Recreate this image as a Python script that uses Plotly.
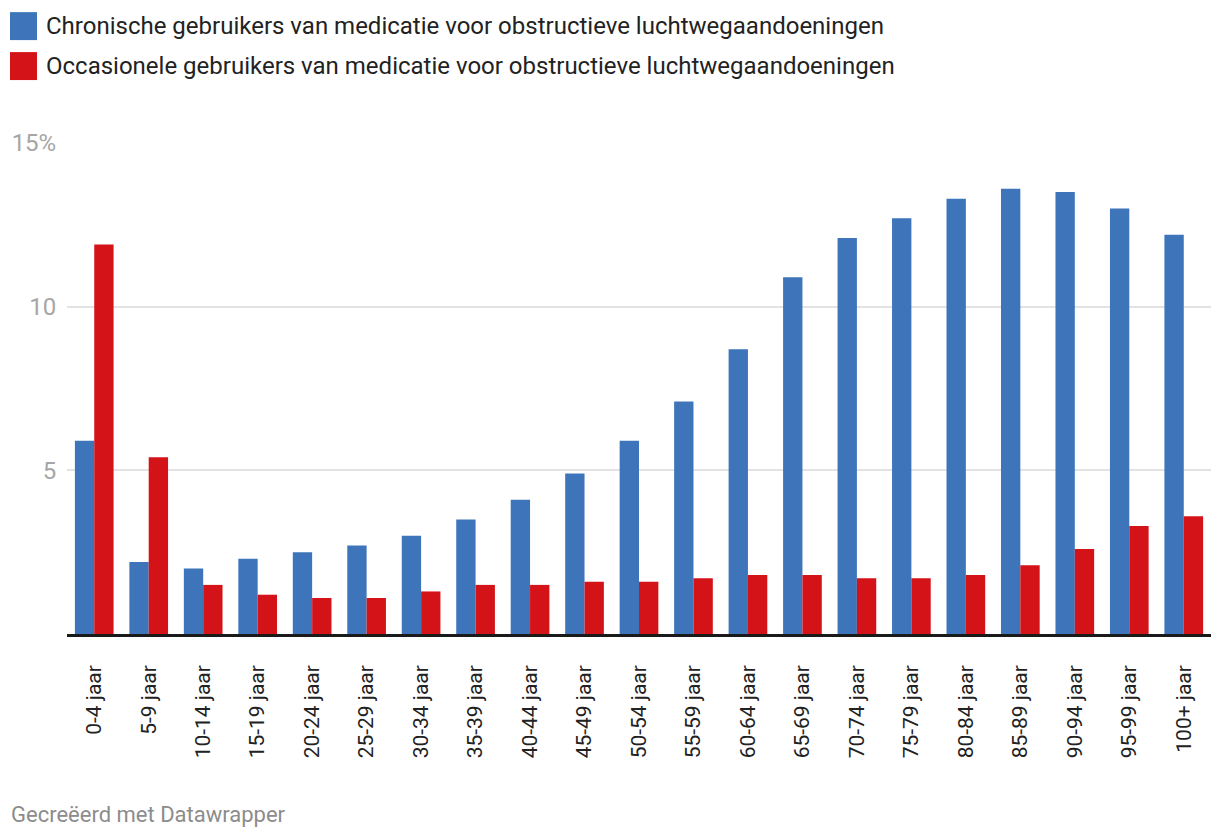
import plotly.graph_objects as go

categories = ["0-4 jaar", "5-9 jaar", "10-14 jaar", "15-19 jaar", "20-24 jaar", "25-29 jaar",
              "30-34 jaar", "35-39 jaar", "40-44 jaar", "45-49 jaar", "50-54 jaar", "55-59 jaar",
              "60-64 jaar", "65-69 jaar", "70-74 jaar", "75-79 jaar", "80-84 jaar", "85-89 jaar",
              "90-94 jaar", "95-99 jaar", "100+ jaar"]
chronisch = [5.9, 2.2, 2.0, 2.3, 2.5, 2.7, 3.0, 3.5, 4.1, 4.9, 5.9, 7.1, 8.7, 10.9, 12.1,
             12.7, 13.3, 13.6, 13.5, 13.0, 12.2]
occasioneel = [11.9, 5.4, 1.5, 1.2, 1.1, 1.1, 1.3, 1.5, 1.5, 1.6, 1.6, 1.7, 1.8, 1.8, 1.7,
               1.7, 1.8, 2.1, 2.6, 3.3, 3.6]
series_names = ["Chronische gebruikers van medicatie voor obstructieve luchtwegaandoeningen",
                "Occasionele gebruikers van medicatie voor obstructieve luchtwegaandoeningen"]
y_tickvals = [5, 10, 15]
y_ticktext = ["5", "10", "15%"]
footer = "Gecreëerd met Datawrapper"

BLUE = "#3D74BA"
RED = "#D41319"
FONT = "Roboto"

OFF = 8  # page body margin
W, H = 1220 - OFF, 838 - OFF
# plot area in page pixels: x 67..1211, y 143..634.5
L = 67 - OFF
T = 143 - OFF
R = W - (1211 - OFF)
B = H - (634.5 - OFF)

fig = go.Figure()
fig.add_trace(go.Bar(x=categories, y=chronisch, name=series_names[0], marker_color=BLUE,
                     marker_line_width=0, showlegend=False))
fig.add_trace(go.Bar(x=categories, y=occasioneel, name=series_names[1], marker_color=RED,
                     marker_line_width=0, showlegend=False))

pw = W - L - R
ph = H - T - B


def px_x(x):
    return (x - OFF - L) / pw


def px_y(y):
    return (H - B - (y - OFF)) / ph


colors = [BLUE, RED]
rows = [12, 52]
shapes = []
annotations = []
for name, c, top in zip(series_names, colors, rows):
    shapes.append(dict(type="rect", xref="paper", yref="paper",
                       x0=px_x(10), x1=px_x(37), y0=px_y(top + 28), y1=px_y(top),
                       fillcolor=c, line_width=0))
    annotations.append(dict(text=name, xref="paper", yref="paper", x=px_x(44), y=px_y(top + 14),
                            xanchor="left", yanchor="middle", showarrow=False,
                            font=dict(family=FONT, size=24, color="#222222")))
annotations.append(dict(text=footer, xref="paper", yref="paper", x=px_x(9), y=px_y(815),
                        xanchor="left", yanchor="middle", showarrow=False,
                        font=dict(family=FONT, size=22, color="#8c8c8c")))

fig.update_layout(
    width=W, height=H,
    margin=dict(l=L, r=R, t=T, b=B, pad=0, autoexpand=False),
    paper_bgcolor="white", plot_bgcolor="white",
    barmode="group", bargap=0.29, bargroupgap=0,
    font=dict(family=FONT),
    shapes=shapes, annotations=annotations,
    xaxis=dict(
        tickangle=-90, tickfont=dict(family=FONT, size=21, color="#222222"),
        ticks="outside", ticklen=20, tickcolor="rgba(0,0,0,0)",
        showline=True, linecolor="#1a1a1a", linewidth=2.5, showgrid=False,
        zeroline=False, fixedrange=True, automargin=False,
    ),
    yaxis=dict(
        range=[0, 15], tickvals=y_tickvals, ticktext=y_ticktext,
        tickfont=dict(family=FONT, size=24, color="#a6a6a6"),
        ticks="outside", ticklen=5, tickcolor="rgba(0,0,0,0)",
        showgrid=True, gridcolor="#e3e3e3", gridwidth=1.5,
        zeroline=False, showline=False, fixedrange=True, automargin=False,
    ),
)

fig.write_html("out.html")
